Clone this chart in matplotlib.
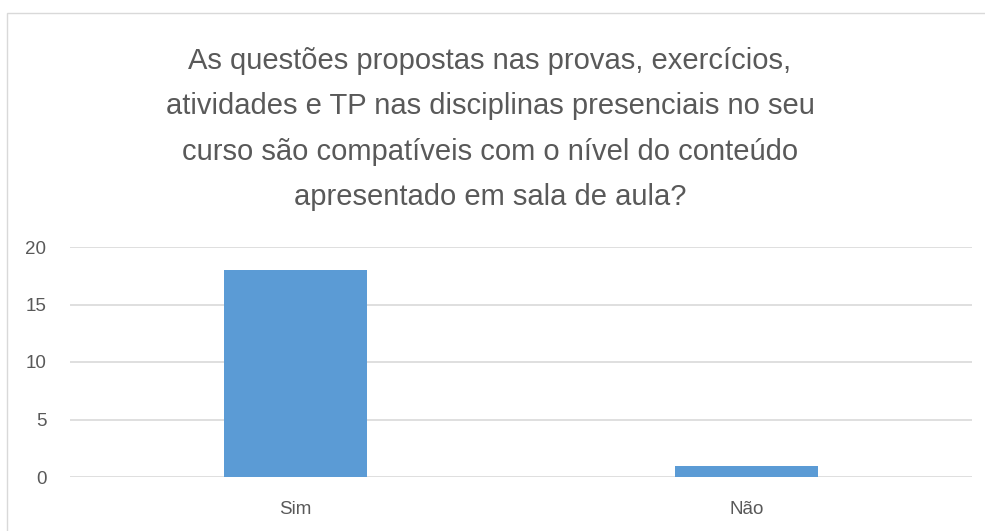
import matplotlib.pyplot as plt
from matplotlib.patches import Rectangle

categories = ['Sim', 'Não']
values = [18, 1]
yticks = [0, 5, 10, 15, 20]
title = ('As questões propostas nas provas, exercícios,\n'
         'atividades e TP nas disciplinas presenciais no seu\n'
         'curso são compatíveis com o nível do conteúdo\n'
         'apresentado em sala de aula?')

plt.rcParams['font.family'] = ['Liberation Sans', 'DejaVu Sans']

fig = plt.figure(figsize=(9.85, 5.31), dpi=100)
# chart area border
fig.patches.append(Rectangle((7 / 985, -0.1), 1.1, 1 - 13 / 531 + 0.1, transform=fig.transFigure,
                             fill=False, edgecolor='#d9d9d9', linewidth=1))

ax = fig.add_axes([70 / 985, 1 - 477 / 531, 902 / 985, 230 / 531])
x = list(range(len(categories)))
ax.bar(x, values, width=0.315, color='#5B9BD5', zorder=3)
ax.set_xlim(-0.5, len(categories) - 0.5)
ax.set_ylim(0, 20)
ax.set_yticks(yticks)
ax.set_xticks(x)
ax.set_xticklabels(categories)
ax.yaxis.grid(True, color='#d9d9d9', linewidth=1.2, zorder=0)
ax.set_axisbelow(True)
for s in ax.spines.values():
    s.set_visible(False)
ax.tick_params(length=0, colors='#595959', labelsize=13.5)
ax.tick_params(axis='x', pad=17)
ax.tick_params(axis='y', pad=17)

fig.text(490 / 985, 1 - 129 / 531, title, ha='center', va='center', fontsize=21,
         color='#595959', linespacing=1.8)

fig.savefig('out.png', dpi=100)
